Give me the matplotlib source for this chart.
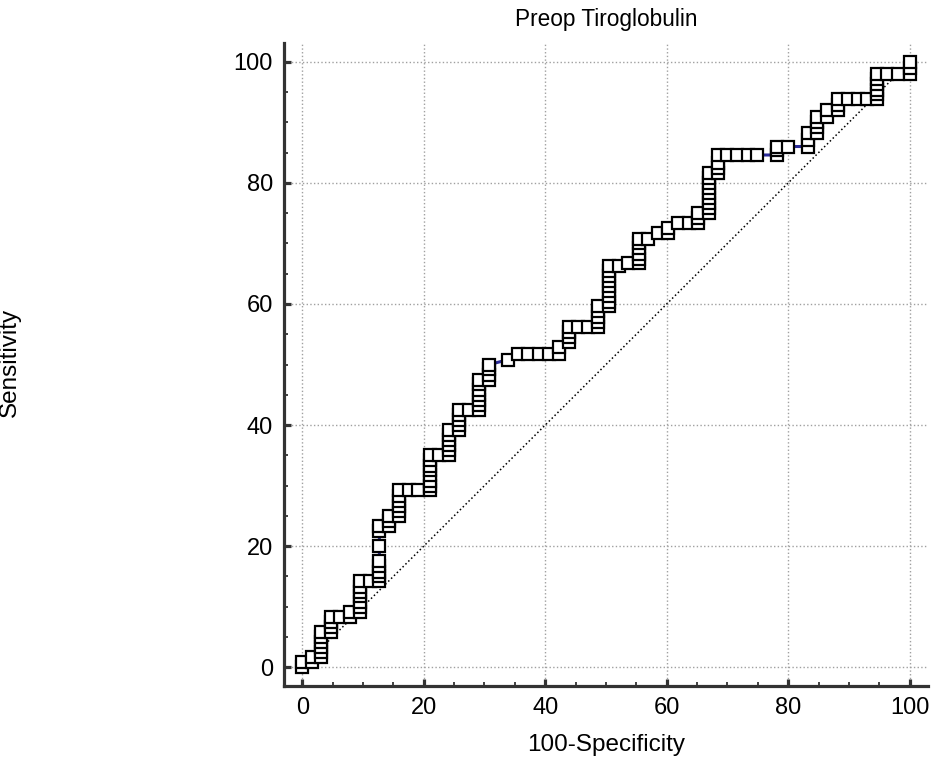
import numpy as np
import matplotlib.pyplot as plt
from matplotlib.ticker import MultipleLocator

plt.rcParams['font.family'] = ['Liberation Sans', 'DejaVu Sans']

# puntos de la curva ROC (100-especificidad, sensibilidad)
fpr = [0, 0, 1.6, 1.6,
       3.1, 3.1, 3.1, 3.1, 3.1, 3.1,
       4.7, 4.7, 4.7, 4.7,
       6.3, 7.9, 7.9,
       9.5, 9.5, 9.5, 9.5, 9.5, 9.5, 9.5,
       11.1,
       12.7, 12.7, 12.7, 12.7, 12.7, 12.7, 12.7, 12.7,
       14.3, 14.3, 14.3,
       15.9, 15.9, 15.9, 15.9, 15.9, 15.9,
       17.5, 19.1,
       21.0, 21.0, 21.0, 21.0, 21.0, 21.0, 21.0, 21.0,
       22.5,
       24.2, 24.2, 24.2, 24.2, 24.2, 24.2,
       25.8, 25.8, 25.8, 25.8, 25.8,
       27.5,
       29.1, 29.1, 29.1, 29.1, 29.1, 29.1, 29.1,
       30.8, 30.8, 30.8, 30.8,
       33.9,
       35.6, 37.2, 39.0, 40.6, 42.2, 42.2,
       43.9, 43.9, 43.9, 43.9,
       45.4, 47.0, 48.7,
       48.7, 48.7, 48.7, 48.7,
       50.5, 50.5, 50.5, 50.5, 50.5, 50.5, 50.5, 50.5, 50.5,
       52.1, 53.7,
       55.4, 55.4, 55.4, 55.4, 55.4, 55.4,
       56.9, 58.6, 60.2, 60.2,
       61.9, 63.6, 65.2, 65.2, 65.2,
       66.9, 66.9, 66.9, 66.9, 66.9, 66.9, 66.9, 66.9, 66.9,
       68.4, 68.4, 68.4, 68.4,
       70.0, 71.6, 73.3, 74.9,
       78.2, 78.2, 78.2, 79.9,
       83.2, 83.2, 83.2,
       84.8, 84.8, 84.8, 84.8,
       86.4, 86.4,
       88.2, 88.2, 88.2,
       89.8, 91.4, 93.0, 94.6,
       94.6, 94.6, 94.6, 94.6, 94.6,
       96.3, 98.0, 100, 100, 100]
tpr = [0, 0.8, 0.8, 1.7,
       1.7, 2.5, 3.3, 4.2, 5.0, 5.8,
       5.8, 6.7, 7.5, 8.3,
       8.3, 8.3, 9.2,
       9.2, 10.0, 10.8, 11.7, 12.5, 13.3, 14.2,
       14.2,
       14.2, 15.0, 15.8, 16.7, 17.5, 20.0, 22.5, 23.3,
       23.3, 24.2, 25.0,
       25.0, 25.8, 26.7, 27.5, 28.3, 29.2,
       29.2, 29.2,
       29.2, 30.0, 30.8, 31.7, 32.5, 33.3, 34.2, 35.0,
       35.0,
       35.0, 35.8, 36.7, 37.5, 38.3, 39.2,
       39.2, 40.0, 40.8, 41.7, 42.5,
       42.5,
       42.5, 43.3, 44.2, 45.0, 45.8, 46.7, 47.5,
       47.5, 48.3, 49.2, 50.0,
       50.8,
       51.7, 51.7, 51.7, 51.7, 51.7, 52.9,
       53.7, 54.6, 55.4, 56.2,
       56.2, 56.2, 56.2,
       57.1, 57.9, 58.8, 59.6,
       59.6, 60.4, 61.3, 62.1, 62.9, 63.8, 64.6, 65.4, 66.3,
       66.3, 66.7,
       66.7, 67.5, 68.3, 69.2, 70.0, 70.8,
       70.8, 71.7, 71.7, 72.5,
       73.3, 73.3, 73.3, 74.2, 75.0,
       75.0, 75.8, 76.7, 77.5, 78.3, 79.2, 80.0, 80.8, 81.7,
       81.7, 82.5, 83.3, 84.6,
       84.6, 84.6, 84.6, 84.6,
       84.6, 85.4, 86.0, 86.0,
       86.0, 87.1, 88.3,
       88.3, 89.2, 90.0, 90.8,
       90.8, 92.0,
       92.0, 92.9, 93.8,
       93.8, 93.8, 93.8, 93.8,
       94.6, 95.4, 96.3, 97.1, 97.9,
       97.9, 97.9, 97.9, 99.0, 100]

titulo = 'Preop Tiroglobulin'
eje_x = '100-Specificity'
eje_y = 'Sensitivity'

gris = '#333333'

fig = plt.figure(figsize=(9.32, 7.62), dpi=100)
ax = fig.add_axes([0.3047, 0.0997, 0.691, 0.8439])

ax.plot([0, 100], [0, 100], color='black', linestyle=':', linewidth=1.1, zorder=2)
ax.plot(fpr, tpr, color='#2b2b9a', linewidth=2.2, zorder=3)
ax.plot(fpr, tpr, linestyle='none', marker='s', markersize=8.4,
        markerfacecolor='white', markeredgecolor='black', markeredgewidth=1.6, zorder=4)

ax.set_xlim(-3, 103)
ax.set_ylim(-3.1, 103.1)

ax.xaxis.set_major_locator(MultipleLocator(20))
ax.yaxis.set_major_locator(MultipleLocator(20))
ax.xaxis.set_minor_locator(MultipleLocator(5))
ax.yaxis.set_minor_locator(MultipleLocator(5))

ax.grid(True, which='major', color='#a0a0a0', linestyle=':', linewidth=1.0, zorder=1)
ax.set_axisbelow(True)

for lado in ['top', 'right']:
    ax.spines[lado].set_visible(False)
for lado in ['left', 'bottom']:
    ax.spines[lado].set_linewidth(2.3)
    ax.spines[lado].set_color(gris)

ax.tick_params(which='major', direction='in', length=5, width=2.3, color=gris,
               labelsize=17, pad=8)
ax.tick_params(which='minor', direction='in', length=3, width=1.3, color=gris)

ax.set_title(titulo, fontsize=16.3, pad=12)
ax.set_xlabel(eje_x, fontsize=17.5, labelpad=11)
fig.text(0.0105, 0.524, eje_y, rotation=90, fontsize=17.5, ha='center', va='center')

fig.savefig('out.png', dpi=100)
